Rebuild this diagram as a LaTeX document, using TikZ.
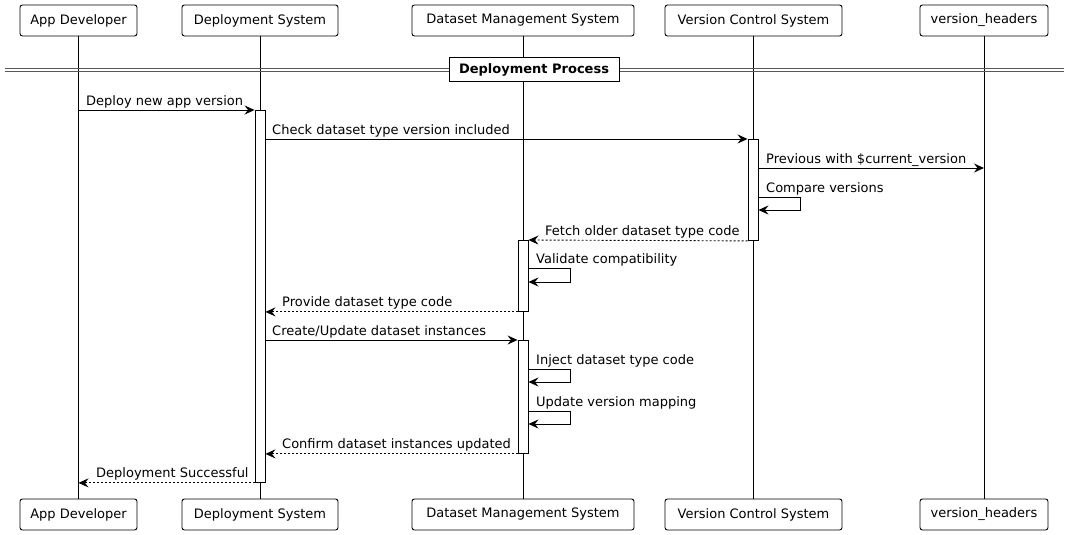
\documentclass[tikz,border=0pt]{standalone}
\usepackage{fontspec}
\setmainfont{DejaVu Sans}
\usetikzlibrary{arrows.meta}
\begin{document}
\begin{tikzpicture}[x=1pt,y=-1pt,
  font=\fontsize{13}{15}\selectfont,
  part/.style={draw, rounded corners=2.5pt, line width=0.9pt, fill=white, minimum height=31pt, inner sep=0pt},
  act/.style={draw, fill=white, line width=0.9pt, minimum width=10pt, inner sep=0pt, anchor=north},
  life/.style={line width=0.9pt},
  msg/.style={line width=0.9pt, -{Stealth[length=10pt,width=9pt,inset=3.5pt]}},
  ret/.style={msg, dash pattern=on 2pt off 2pt},
  lbl/.style={anchor=base west, inner sep=0pt},
  divline/.style={line width=0.8pt, black!65},
]
\useasboundingbox (0,0) rectangle (1069,535);
% participants
\node[part, minimum width=117pt] (tA) at (78.5,20.5) {App Developer};
\node[part, minimum width=156pt] (tD) at (260,20.5) {Deployment System};
\node[part, minimum width=222pt] (tM) at (523,20.5) {Dataset Management System};
\node[part, minimum width=177pt] (tV) at (753.5,20.5) {Version Control System};
\node[part, minimum width=128pt] (tH) at (984,20.5) {version\_headers};
\node[part, minimum width=117pt] (bA) at (78.5,514.5) {App Developer};
\node[part, minimum width=156pt] (bD) at (260,514.5) {Deployment System};
\node[part, minimum width=222pt] (bM) at (523,514.5) {Dataset Management System};
\node[part, minimum width=177pt] (bV) at (753.5,514.5) {Version Control System};
\node[part, minimum width=128pt] (bH) at (984,514.5) {version\_headers};
% lifelines
\foreach \p in {A,D,M,V,H} {\draw[life] (t\p.south) -- (b\p.north);}
% divider
\draw[divline] (5,68.5) -- (1064,68.5);
\draw[divline] (5,71.5) -- (1064,71.5);
\node[draw, fill=white, line width=0.9pt, minimum width=170pt, minimum height=24pt, inner sep=0pt, font=\fontsize{13}{15}\selectfont\bfseries] (div) at (534,69.5) {Deployment Process};
% activations
\node[act, minimum height=372pt] (aD) at (260,110) {};
\node[act, minimum height=101pt] (aV) at (753,139) {};
\node[act, minimum height=71pt] (aM1) at (523,240) {};
\node[act, minimum height=113pt] (aM2) at (523,340) {};
% helper rows
\coordinate (y3) at (0,168);
\coordinate (y4) at (0,197);
\coordinate (y6) at (0,268);
\coordinate (y9) at (0,369);
\coordinate (y10) at (0,411);
% messages
\draw[msg] (tA.south |- aD.north) -- (aD.north west);
\node[lbl] (l1) at (86,105.5) {Deploy new app version};
\draw[msg] (aD.east |- aV.north) -- (aV.north west);
\node[lbl] (l2) at (272,134.5) {Check dataset type version included};
\draw[msg] (aV.east |- y3) -- (tH.south |- y3);
\node[lbl] (l3) at (766,163.5) {Previous with \$current\_version};
\draw[msg] (aV.east |- y4) -- ++(42,0) -- ++(0,13) -- ++(-42,0);
\node[lbl] (l4) at (766,192.5) {Compare versions};
\draw[ret] (aV.south west) -- (aM1.north east);
\node[lbl] (l5) at (545,235.5) {Fetch older dataset type code};
\draw[msg] (aM1.east |- y6) -- ++(42,0) -- ++(0,14) -- ++(-42,0);
\node[lbl] (l6) at (536,263.5) {Validate compatibility};
\draw[ret] (aM1.south west) -- (aD.east |- aM1.south);
\node[lbl] (l7) at (282,306.5) {Provide dataset type code};
\draw[msg] (aD.east |- aM2.north) -- (aM2.north west);
\node[lbl] (l8) at (272,335.5) {Create/Update dataset instances};
\draw[msg] (aM2.east |- y9) -- ++(42,0) -- ++(0,13) -- ++(-42,0);
\node[lbl] (l9) at (536,364.5) {Inject dataset type code};
\draw[msg] (aM2.east |- y10) -- ++(42,0) -- ++(0,13) -- ++(-42,0);
\node[lbl] (l10) at (536,406.5) {Update version mapping};
\draw[ret] (aM2.south west) -- (aD.east |- aM2.south);
\node[lbl] (l11) at (282,448.5) {Confirm dataset instances updated};
\draw[ret] (aD.south west) -- (tA.south |- aD.south);
\node[lbl] (l12) at (96,477.5) {Deployment Successful};
\end{tikzpicture}
\end{document}
